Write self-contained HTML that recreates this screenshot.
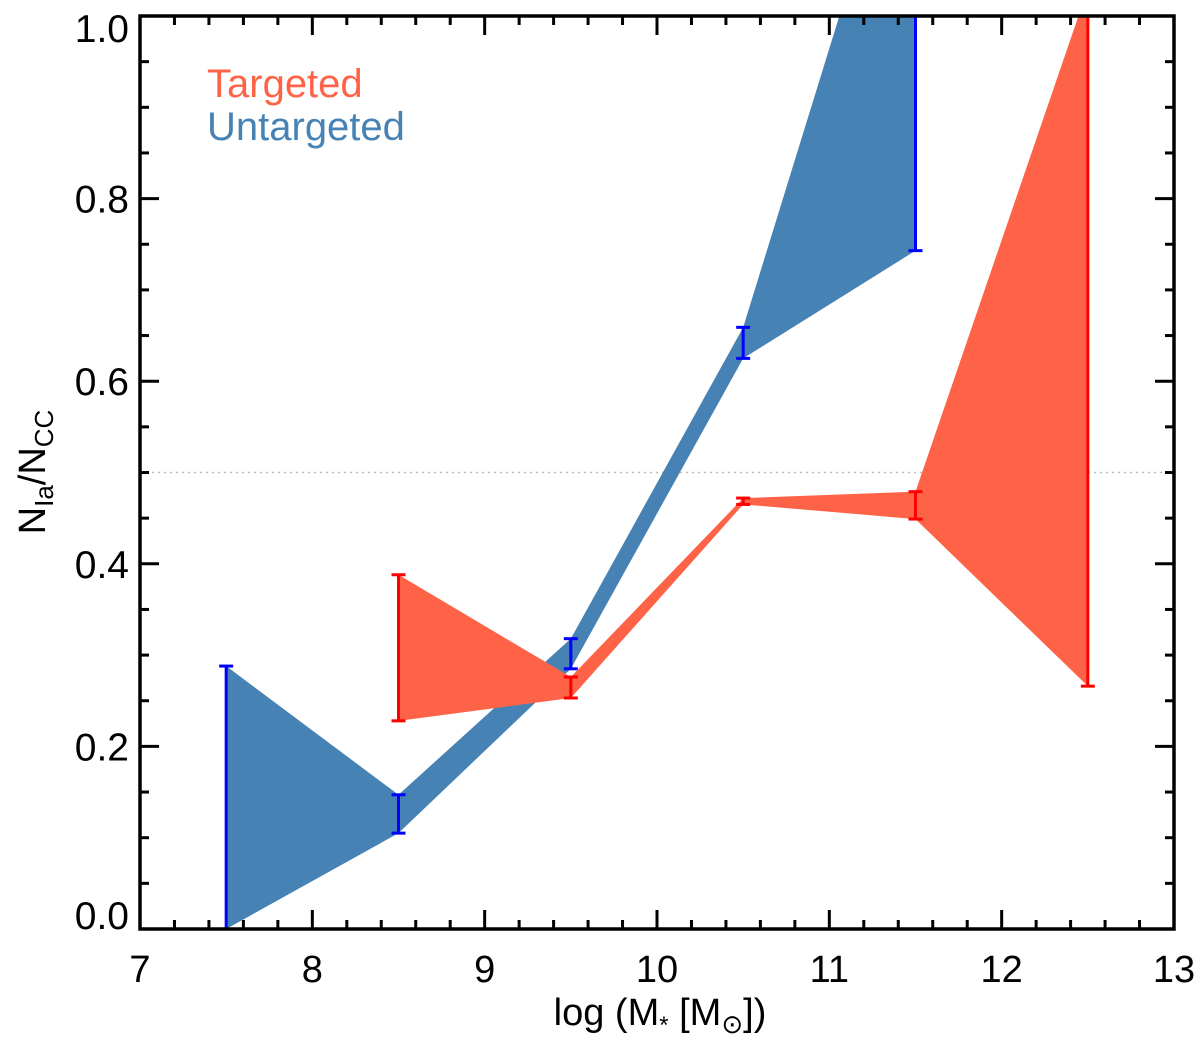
<!DOCTYPE html>
<html><head><meta charset="utf-8"><style>
body{margin:0;background:#fff}
svg text{font-family:"Liberation Sans","DejaVu Sans",sans-serif}
</style></head><body>
<svg id="chart" width="1200" height="1041" viewBox="0 0 1200 1041" xmlns="http://www.w3.org/2000/svg">
<defs><clipPath id="clip"><rect x="140" y="16" width="1034" height="913"/></clipPath></defs>
<g id="plot" clip-path="url(#clip)"></g>
<g id="axes"></g>
<text x="207" y="97" font-size="40" fill="#ff6347">Targeted</text>
<text x="207" y="140" font-size="40" fill="#4682b4">Untargeted</text>
<text x="660" y="1025" font-size="38" text-anchor="middle">log (M<tspan font-size="24" dy="8">*</tspan><tspan dy="-8"> [M</tspan><tspan font-size="26" dy="8">⊙</tspan><tspan dy="-8">])</tspan></text>
<text transform="translate(45,472) rotate(-90)" font-size="38" text-anchor="middle">N<tspan font-size="26" dy="8">Ia</tspan><tspan dy="-8">/N</tspan><tspan font-size="26" dy="8">CC</tspan></text>
</svg>
<script>
const massBins=[7.5,8.5,9.5,10.5,11.5];
const untargetedLow=[0.0,0.105,0.285,0.625,0.743];
const untargetedHigh=[0.288,0.147,0.318,0.659,1.27];
const targetedBins=[8.5,9.5,10.5,11.5,12.5];
const targetedLow=[0.228,0.253,0.465,0.449,0.266];
const targetedHigh=[0.388,0.276,0.472,0.479,1.03];
const xTicks=[7,8,9,10,11,12,13];
const yTicks=["0.0","0.2","0.4","0.6","0.8","1.0"];
const X0=140,X1=1174,Y0=929,Y1=16;
const sx=v=>X0+(v-7)/6*(X1-X0);
const sy=v=>Y0-v*(Y0-Y1);
const NS="http://www.w3.org/2000/svg";
const plot=document.getElementById('plot'),axes=document.getElementById('axes');
function mk(tag,attrs,parent){const e=document.createElementNS(NS,tag);for(const k in attrs)e.setAttribute(k,attrs[k]);parent.appendChild(e);return e;}
let ref=mk('line',{x1:X0,x2:X1,y1:sy(0.5),y2:sy(0.5),stroke:'#bbb','stroke-width':1.5,'stroke-dasharray':'2,4'},plot);


function band(xs,lo,hi,fill,err,name){
  const pts=xs.map((x,i)=>sx(x)+','+sy(hi[i])).concat(xs.map((x,i)=>sx(x)+','+sy(lo[i])).reverse());
  const p=mk('polygon',{points:pts.join(' '),fill:fill},plot);
  
  
  xs.forEach((x,i)=>{
    const g=mk('g',{stroke:err,'stroke-width':3},plot);
    
    
    const cx=sx(x);
    mk('line',{x1:cx,x2:cx,y1:sy(lo[i]),y2:sy(hi[i])},g);
    mk('line',{x1:cx-7,x2:cx+7,y1:sy(lo[i]),y2:sy(lo[i])},g);
    mk('line',{x1:cx-7,x2:cx+7,y1:sy(hi[i]),y2:sy(hi[i])},g);
  });
}
band(massBins,untargetedLow,untargetedHigh,'#4682b4','#0000ff','untargeted');
band(targetedBins,targetedLow,targetedHigh,'#ff6347','#ff0000','targeted');
let fr=mk('rect',{x:X0,y:Y1,width:X1-X0,height:Y0-Y1,fill:'none',stroke:'#000','stroke-width':3.5},axes);


for(let v=7;v<=13.001;v+=0.2){
  const major=Math.abs(v-Math.round(v))<1e-6,L=major?19:9,x=sx(v);
  mk('line',{x1:x,x2:x,y1:Y0,y2:Y0-L,stroke:'#000','stroke-width':3},axes);
  mk('line',{x1:x,x2:x,y1:Y1,y2:Y1+L,stroke:'#000','stroke-width':3},axes);
}
xTicks.forEach(t=>{const e=mk('text',{x:sx(t),y:Y0+53,'font-size':38,'text-anchor':'middle'},axes);e.textContent=t;

});
for(let v=0;v<=1.0001;v+=0.05){
  const major=Math.abs(v*5-Math.round(v*5))<1e-6,L=major?19:9,y=sy(v);
  mk('line',{x1:X0,x2:X0+L,y1:y,y2:y,stroke:'#000','stroke-width':3},axes);
  mk('line',{x1:X1,x2:X1-L,y1:y,y2:y,stroke:'#000','stroke-width':3},axes);
}
yTicks.forEach(t=>{const v=parseFloat(t);let y=sy(v)+14;if(v===0)y=929;if(v===1)y=42;
const e=mk('text',{x:X0-11,y:y,'font-size':39,'text-anchor':'end'},axes);e.textContent=t;

});
</script>
</body></html>
